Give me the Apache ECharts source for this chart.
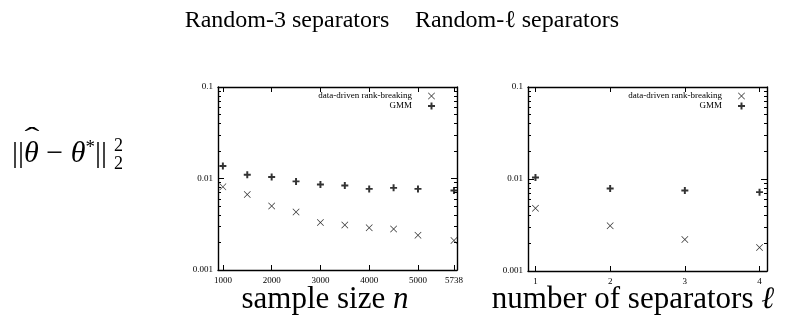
<!DOCTYPE html>
<html>
<head>
<meta charset="utf-8">
<script src="https://cdn.jsdelivr.net/npm/echarts@6/dist/echarts.min.js"></script>
<style>
  html, body { margin: 0; padding: 0; background: #fff; }
  #chart { width: 793px; height: 322px; }
</style>
</head>
<body>
<div id="chart"></div>
<script>
// Squared estimation error against sample size (random-3 separators)
const sampleSizes = [1000, 1500, 2000, 2500, 3000, 3500, 4000, 4500, 5000, 5738];
const rankBreakingBySize = [0.0081, 0.0067, 0.0050, 0.0043, 0.0033, 0.0031, 0.0029, 0.0028, 0.0024, 0.0021];
const gmmBySize = [0.0137, 0.0110, 0.0104, 0.0093, 0.0086, 0.0084, 0.0077, 0.0079, 0.0077, 0.0074];

// Squared estimation error against number of separators
const separatorCounts = [1, 2, 3, 4];
const rankBreakingBySep = [0.0048, 0.0031, 0.0022, 0.0018];
const gmmBySep = [0.0104, 0.0079, 0.0075, 0.0072];

// Tick positions
const sampleTicks = [1000, 2000, 3000, 4000, 5000, 5738];
const separatorTicks = [1, 2, 3, 4];
const errorTicks = [0.001, 0.01, 0.1];
const errorMinorTicks = [0.002, 0.003, 0.004, 0.005, 0.006, 0.007, 0.008, 0.009,
                         0.02, 0.03, 0.04, 0.05, 0.06, 0.07, 0.08, 0.09];

const seriesNames = ['data-driven rank-breaking', 'GMM'];

const CROSS = 'path://M0,0.7L0.7,0L5,4.3L9.3,0L10,0.7L5.7,5L10,9.3L9.3,10L5,5.7L0.7,10L0,9.3L4.3,5Z';
const PLUS = 'path://M3.6,0H6.4V3.6H10V6.4H6.4V10H3.6V6.4H0V3.6H3.6Z';

const SERIF = 'Liberation Serif';
const tickFont = { fontFamily: SERIF, fontSize: 9, color: '#000' };
const frameLine = { show: true, lineStyle: { color: '#000', width: 1.4 } };

function xAxisPair(gridIndex, min, max, ticks) {
  const base = {
    type: 'value', gridIndex, min, max,
    splitLine: { show: false },
    axisLine: frameLine
  };
  return [
    Object.assign({}, base, {
      position: 'bottom',
      axisTick: { show: true, inside: true, length: 5, customValues: ticks, lineStyle: { color: '#000' } },
      axisLabel: Object.assign({ show: true, margin: 6, customValues: ticks, formatter: v => String(v) }, tickFont)
    }),
    Object.assign({}, base, {
      position: 'top',
      axisTick: { show: true, inside: true, length: 5, customValues: ticks, lineStyle: { color: '#000' } },
      axisLabel: { show: false }
    })
  ];
}

function yAxisSet(gridIndex) {
  const base = {
    type: 'log', logBase: 10, gridIndex, min: 0.001, max: 0.1,
    splitLine: { show: false }
  };
  const mk = (position, ticks, len, withLine, withLabel) => Object.assign({}, base, {
    position,
    axisLine: withLine ? frameLine : { show: false },
    axisTick: { show: true, inside: true, length: len, customValues: ticks, lineStyle: { color: '#000' } },
    axisLabel: withLabel
      ? Object.assign({ show: true, margin: 5, customValues: errorTicks, formatter: v => String(+v.toPrecision(1)) }, tickFont)
      : { show: false }
  });
  return [
    mk('left', errorTicks, 6, true, true),
    mk('left', errorMinorTicks, 3, false, false),
    mk('right', errorTicks, 6, true, false),
    mk('right', errorMinorTicks, 3, false, false)
  ];
}

function pairs(xs, ys) { return xs.map((x, i) => [x, ys[i]]); }

function scatter(name, symbol, size, xIdx, yIdx, data) {
  return {
    type: 'scatter', name, symbol, symbolSize: size,
    xAxisIndex: xIdx, yAxisIndex: yIdx,
    itemStyle: { color: '#000' },
    emphasis: { disabled: true },
    data
  };
}

function legendAt(right) {
  return {
    orient: 'vertical', right, top: 86,
    align: 'right', itemWidth: 7, itemHeight: 7, itemGap: 0,
    data: seriesNames.map((n, i) => ({ name: n, icon: i === 0 ? CROSS : PLUS })),
    textStyle: { fontFamily: SERIF, fontSize: 9, color: '#000', padding: [0, 11, 0, 0], lineHeight: 10 },
    selectedMode: false
  };
}

const chart = echarts.init(document.getElementById('chart'), null, { renderer: 'canvas' });

const bigText = (text, x, y, size) => ({
  type: 'text', x, y,
  style: {
    text, fontFamily: SERIF, fontSize: size, fill: '#000', align: 'center', verticalAlign: 'middle',
    rich: { i: { fontFamily: SERIF, fontStyle: 'italic', fontSize: size, fill: '#000' } }
  }
});

chart.setOption({
  animation: false,
  backgroundColor: '#fff',
  grid: [
    { left: 218, top: 87, width: 239, height: 183 },
    { left: 528, top: 87, width: 239, height: 184 }
  ],
  xAxis: [
    ...xAxisPair(0, 900, 5800, sampleTicks),
    ...xAxisPair(1, 0.9, 4.1, separatorTicks)
  ],
  yAxis: [
    ...yAxisSet(0),
    ...yAxisSet(1)
  ],
  legend: [legendAt(353), legendAt(43)],
  series: [
    scatter(seriesNames[0], CROSS, 7, 0, 0, pairs(sampleSizes, rankBreakingBySize)),
    scatter(seriesNames[1], PLUS, 7, 0, 0, pairs(sampleSizes, gmmBySize)),
    scatter(seriesNames[0], CROSS, 7, 2, 4, pairs(separatorCounts, rankBreakingBySep)),
    scatter(seriesNames[1], PLUS, 7, 2, 4, pairs(separatorCounts, gmmBySep))
  ],
  graphic: [
    bigText('Random-3 separators', 287, 21, 24),
    bigText('Random-ℓ separators', 517, 21, 24),
    bigText('sample size {i|n}', 325, 300, 31),
    bigText('number of separators {i|ℓ}', 633, 300, 31),
    // error norm ||θ̂ − θ*||₂²
    {
      type: 'text', x: 12, y: 154,
      style: {
        text: '||{i|θ} − {i|θ}{s|*}||', fontFamily: SERIF, fontSize: 30, fill: '#000',
        align: 'left', verticalAlign: 'middle',
        rich: {
          i: { fontFamily: SERIF, fontStyle: 'italic', fontSize: 30, fill: '#000' },
          s: { fontFamily: SERIF, fontSize: 19, fill: '#000', verticalAlign: 'top', padding: [0, 0, 12, 0] }
        }
      }
    },
    {
      type: 'text', x: 32, y: 139, scaleX: 1.6,
      style: { text: 'ˆ', fontFamily: SERIF, fontSize: 28, fill: '#000', align: 'center', verticalAlign: 'middle' }
    },
    {
      type: 'text', x: 114, y: 146,
      style: { text: '2', fontFamily: SERIF, fontSize: 18, fill: '#000', align: 'left', verticalAlign: 'middle' }
    },
    {
      type: 'text', x: 114, y: 164,
      style: { text: '2', fontFamily: SERIF, fontSize: 18, fill: '#000', align: 'left', verticalAlign: 'middle' }
    }
  ]
});
</script>
</body>
</html>
